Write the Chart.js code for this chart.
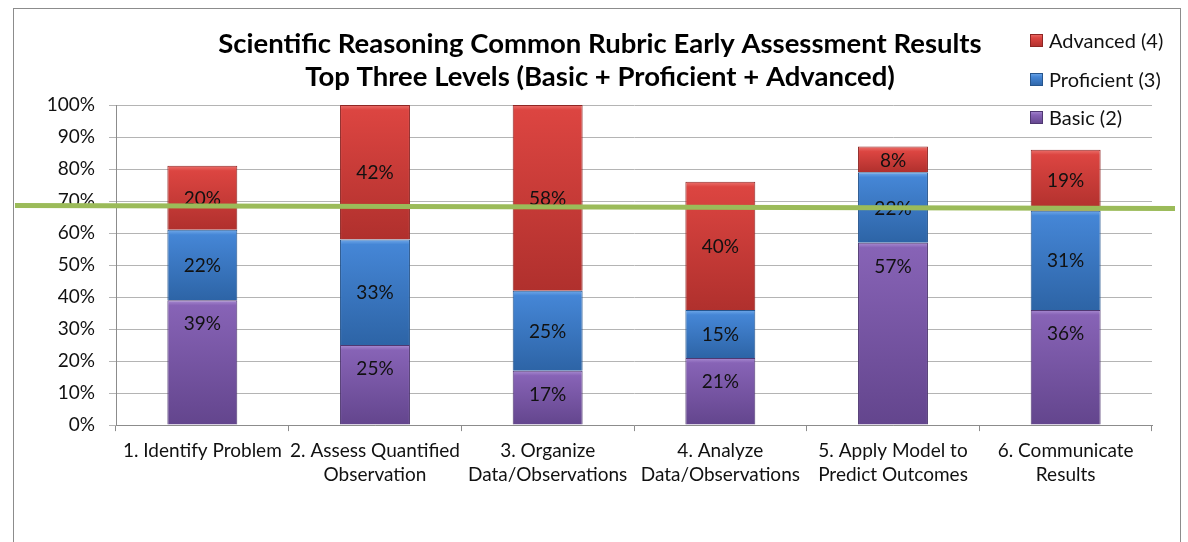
<!DOCTYPE html>
<html>
<head>
<meta charset="utf-8">
<script src="https://cdn.jsdelivr.net/npm/chart.js@4"></script>
<style>
    body { margin: 0; background: #fff; }
    #wrap { position: relative; width: 1188px; height: 542px; overflow: hidden; }
    #frame { position: absolute; left: 13px; top: 8px; width: 1166px; height: 600px; border: 1px solid #8c8c8c; }
    #myChart { position: absolute; left: 0; top: 0; }
    #legend { position: absolute; left: 1030px; top: 28px; font-family: Lato, sans-serif; font-size: 20px; color: #111; }
    #legend div { height: 38.5px; display: flex; align-items: flex-start; }
    #legend span.box { width: 13px; height: 13px; margin: 6px 6px 0 0; display: inline-block; }
</style>
</head>
<body>
<div id="wrap">
    <div id="frame"></div>
    <canvas id="myChart" width="1188" height="542"></canvas>
    <div id="legend"></div>
</div>
<script>
const categories = [
    ['1. Identify Problem'],
    ['2. Assess Quantified', 'Observation'],
    ['3. Organize', 'Data/Observations'],
    ['4. Analyze', 'Data/Observations'],
    ['5. Apply Model to', 'Predict Outcomes'],
    ['6. Communicate', 'Results']
];
const basic = [39, 25, 17, 21, 57, 36];
const proficient = [22, 33, 25, 15, 22, 31];
const advanced = [20, 42, 58, 40, 8, 19];
const targetLine = 68;
const yTicks = [0, 10, 20, 30, 40, 50, 60, 70, 80, 90, 100];

const shades = {
    basic: ['#a98cd2', '#8763b6', '#63458d', '#4f3872'],
    proficient: ['#72aaea', '#4586d6', '#2d64a6', '#26558d'],
    advanced: ['#ec716c', '#dc4541', '#b0302d', '#8e2624']
};

function segmentFill(key) {
    return function (ctx) {
        const c = shades[key];
        if (ctx.type !== 'data') return c[1];
        const chart = ctx.chart;
        const y = chart.scales.y;
        if (!y || y.bottom === undefined) return c[1];
        let start = 0;
        for (let i = 0; i < ctx.datasetIndex; i++) {
            start += chart.data.datasets[i].data[ctx.dataIndex];
        }
        const value = chart.data.datasets[ctx.datasetIndex].data[ctx.dataIndex];
        const top = y.getPixelForValue(start + value);
        const bottom = y.getPixelForValue(start);
        if (!isFinite(top) || !isFinite(bottom) || bottom - top < 1) return c[1];
        const g = chart.ctx.createLinearGradient(0, top, 0, bottom);
        const edge = Math.min(0.3, 5 / (bottom - top));
        g.addColorStop(0, c[0]);
        g.addColorStop(edge, c[1]);
        g.addColorStop(1, c[2]);
        return g;
    };
}

const labelPlugin = {
    id: 'segmentLabels',
    afterDatasetsDraw(chart) {
        const ctx = chart.ctx;
        ctx.save();
        ctx.font = '19px Lato, sans-serif';
        ctx.fillStyle = '#111';
        ctx.textAlign = 'center';
        ctx.textBaseline = 'middle';
        chart.data.datasets.forEach(function (ds, di) {
            const meta = chart.getDatasetMeta(di);
            meta.data.forEach(function (bar, i) {
                // the bottom series is labelled near its top end, the others in the middle
                const pos = ds.labelAtTop ? bar.y + 24 : (bar.y + bar.base) / 2 + 1;
                ctx.fillText(ds.data[i] + '%', bar.x, pos);
            });
        });
        ctx.restore();
    }
};

const targetPlugin = {
    id: 'targetLine',
    afterDatasetsDraw(chart) {
        const ctx = chart.ctx;
        const y = chart.scales.y.getPixelForValue(targetLine);
        ctx.save();
        ctx.strokeStyle = '#9bbb59';
        ctx.lineWidth = 5;
        ctx.beginPath();
        ctx.moveTo(15, y - 2);
        ctx.lineTo(chart.width - 13, y + 1);
        ctx.stroke();
        ctx.restore();
    }
};

const chart = new Chart(document.getElementById('myChart').getContext('2d'), {
    type: 'bar',
    data: {
        labels: categories,
        datasets: [
            { label: 'Basic (2)', data: basic, backgroundColor: segmentFill('basic'), borderColor: shades.basic[3], borderWidth: 1, key: 'basic', labelAtTop: true },
            { label: 'Proficient (3)', data: proficient, backgroundColor: segmentFill('proficient'), borderColor: shades.proficient[3], borderWidth: 1, key: 'proficient' },
            { label: 'Advanced (4)', data: advanced, backgroundColor: segmentFill('advanced'), borderColor: shades.advanced[3], borderWidth: 1, key: 'advanced' }
        ]
    },
    options: {
        responsive: false,
        animation: false,
        categoryPercentage: 1,
        barPercentage: 0.405,
        layout: { padding: { left: 48, right: 36, top: 28, bottom: 47 } },
        plugins: {
            legend: { display: false },
            tooltip: { enabled: false },
            title: {
                display: true,
                text: ['Scientific Reasoning Common Rubric Early Assessment Results', 'Top Three Levels (Basic + Proficient + Advanced)'],
                color: '#000',
                font: { family: 'Lato, sans-serif', size: 27.5, weight: 'bold', lineHeight: 1.2 },
                padding: { top: 0, bottom: 11 }
            }
        },
        scales: {
            x: {
                stacked: true,
                grid: { drawOnChartArea: false, drawTicks: true, tickLength: 6, color: '#8c8c8c', offset: true },
                border: { color: '#8c8c8c' },
                ticks: { color: '#111', font: { family: 'Lato, sans-serif', size: 19, lineHeight: 1.26 }, maxRotation: 0, autoSkip: false, padding: 8 }
            },
            y: {
                stacked: true,
                min: 0,
                max: 100,
                afterFit(scale) { scale.width = 68; },
                afterBuildTicks(scale) { scale.ticks = yTicks.map(function (v) { return { value: v }; }); },
                grid: { color: '#b4b4b4', tickLength: 7 },
                border: { color: '#8c8c8c' },
                ticks: {
                    color: '#111',
                    font: { family: 'Lato, sans-serif', size: 19 },
                    padding: 14,
                    callback: function (v) { return v + '%'; }
                }
            }
        }
    },
    plugins: [labelPlugin, targetPlugin]
});

// legend in the same order as the reference (top series first)
const legendEl = document.getElementById('legend');
chart.data.datasets.slice().reverse().forEach(function (ds) {
    const c = shades[ds.key];
    const row = document.createElement('div');
    const box = document.createElement('span');
    box.className = 'box';
    box.style.background = 'linear-gradient(' + c[0] + ', ' + c[1] + ' 30%, ' + c[2] + ')';
    box.style.boxShadow = 'inset 0 0 0 1px ' + c[3];
    row.appendChild(box);
    row.appendChild(document.createTextNode(ds.label));
    legendEl.appendChild(row);
});
</script>
</body>
</html>
